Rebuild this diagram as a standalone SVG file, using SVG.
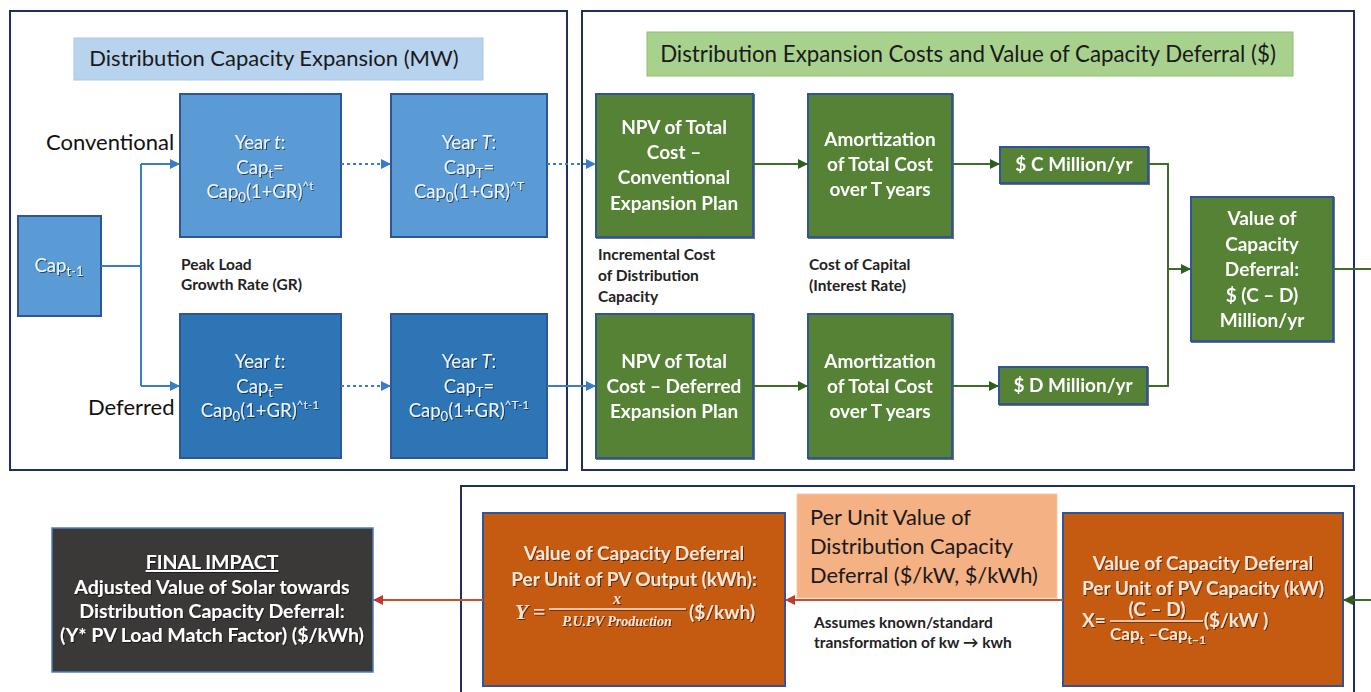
<svg xmlns="http://www.w3.org/2000/svg" width="1371" height="692" viewBox="0 0 1371 692">
<style>
  .panel{fill:#fff;stroke:#1f2f5f;stroke-width:2}
  .lb{fill:#5b9bd5;stroke:#2f5597;stroke-width:2}
  .db{fill:#2e75b6;stroke:#2f5597;stroke-width:2}
  .gb{fill:#548235;stroke:#2f5597;stroke-width:2}
  .ob{fill:#c55a11;stroke:#2f5597;stroke-width:2}
  .t{font-family:Lato,"Liberation Sans",sans-serif}
  .wt{font-family:Lato,"Liberation Sans",sans-serif;fill:#eef4fb;font-size:18.5px;text-anchor:middle}
  .gt{font-family:Lato,"Liberation Sans",sans-serif;fill:#ffffff;font-size:19px;font-weight:bold;text-anchor:middle}
  .ot{font-family:Lato,"Liberation Sans",sans-serif;fill:#fbe5d6;font-size:19px;font-weight:bold;text-anchor:middle}
  .ft{font-family:Lato,"Liberation Sans",sans-serif;fill:#ffffff;font-size:19.5px;font-weight:bold;text-anchor:middle}
  .lab{font-family:Lato,"Liberation Sans",sans-serif;fill:#222;font-size:15.5px;font-weight:bold}
  .blue{stroke:#3a7cc8;stroke-width:2;fill:none}
  .green{stroke:#3c6e2a;stroke-width:2;fill:none}
  .red{stroke:#c8502a;stroke-width:2;fill:none}
  .dot{stroke-dasharray:3 3}
</style>
<defs>
  <marker id="ab" viewBox="0 0 10 10" refX="9" refY="5" markerWidth="5" markerHeight="5" orient="auto" markerUnits="strokeWidth"><path d="M0,0 L10,5 L0,10 z" fill="#3a7cc8"/></marker>
  <marker id="ag" viewBox="0 0 10 10" refX="9" refY="5" markerWidth="5" markerHeight="5" orient="auto" markerUnits="strokeWidth"><path d="M0,0 L10,5 L0,10 z" fill="#2f5f1f"/></marker>
  <marker id="ar" viewBox="0 0 10 10" refX="9" refY="5" markerWidth="5" markerHeight="5" orient="auto" markerUnits="strokeWidth"><path d="M0,0 L10,5 L0,10 z" fill="#c0392b"/></marker>
  <filter id="sh" x="-10%" y="-10%" width="120%" height="130%"><feDropShadow dx="1" dy="1" stdDeviation="0.6" flood-color="#000" flood-opacity="0.55"/></filter>
</defs>

<g id="panels">
  <rect class="panel" x="10" y="11" width="557" height="459"/>
  <rect class="panel" x="582" y="11" width="772" height="459"/>
  <rect class="panel" x="461" y="486" width="893" height="220"/>
</g>

<g id="title-capacity">
  <rect x="74" y="38" width="409" height="42" fill="#b7d3ee" stroke="#a9c8e6" stroke-width="1"/>
  <text class="t" x="274" y="66" font-size="22" fill="#1a1a1a" text-anchor="middle">Distribution Capacity Expansion (MW)</text>
</g>
<g id="title-costs">
  <rect x="647" y="32" width="646" height="44" fill="#a9d18e" stroke="#8fc06c" stroke-width="1"/>
  <text class="t" x="968" y="62" font-size="22.3" fill="#1a1a1a" text-anchor="middle">Distribution Expansion Costs and Value of Capacity Deferral ($)</text>
</g>

<g id="labels">
  <text class="t" x="46" y="150" font-size="22" fill="#111">Conventional</text>
  <text class="t" x="88" y="415" font-size="22" fill="#111">Deferred</text>
  <text class="lab" x="181" y="270">Peak  Load</text>
  <text class="lab" x="181" y="290">Growth Rate (GR)</text>
  <text class="lab" x="598" y="260">Incremental Cost</text>
  <text class="lab" x="598" y="281">of Distribution</text>
  <text class="lab" x="598" y="302">Capacity</text>
  <text class="lab" x="809" y="270">Cost of Capital</text>
  <text class="lab" x="809" y="291">(Interest Rate)</text>
  <text class="lab" x="814" y="628">Assumes known/standard</text>
  <text class="lab" x="814" y="648">transformation of kw → kwh</text>
</g>

<g id="cap-prev">
  <rect class="lb" x="18" y="216" width="83" height="100"/>
  <text class="wt" x="59" y="272" filter="url(#sh)">Cap<tspan font-size="13" dy="4">t-1</tspan></text>
</g>

<g id="conv-year-t" >
  <rect class="lb" x="180" y="94" width="161" height="143"/>
  <g filter="url(#sh)">
  <text class="wt" x="260" y="149">Year <tspan font-style="italic">t</tspan>:</text>
  <text class="wt" x="260" y="174">Cap<tspan font-size="13" dy="4">t</tspan><tspan dy="-4">=</tspan></text>
  <text class="wt" x="260" y="198">Cap<tspan font-size="13" dy="4">0</tspan><tspan dy="-4">(1+GR)</tspan><tspan font-size="12" dy="-8">^t</tspan></text>
  </g>
</g>
<g id="conv-year-T">
  <rect class="lb" x="391" y="94" width="156" height="143"/>
  <g filter="url(#sh)">
  <text class="wt" x="469" y="149">Year <tspan font-style="italic">T</tspan>:</text>
  <text class="wt" x="469" y="174">Cap<tspan font-size="13" dy="4">T</tspan><tspan dy="-4">=</tspan></text>
  <text class="wt" x="469" y="198">Cap<tspan font-size="13" dy="4">0</tspan><tspan dy="-4">(1+GR)</tspan><tspan font-size="12" dy="-8">^T</tspan></text>
  </g>
</g>
<g id="def-year-t">
  <rect class="db" x="180" y="314" width="161" height="144"/>
  <g filter="url(#sh)">
  <text class="wt" x="260" y="368">Year <tspan font-style="italic">t</tspan>:</text>
  <text class="wt" x="260" y="393">Cap<tspan font-size="13" dy="4">t</tspan><tspan dy="-4">=</tspan></text>
  <text class="wt" x="260" y="417">Cap<tspan font-size="13" dy="4">0</tspan><tspan dy="-4">(1+GR)</tspan><tspan font-size="12" dy="-8">^t-1</tspan></text>
  </g>
</g>
<g id="def-year-T">
  <rect class="db" x="391" y="314" width="156" height="144"/>
  <g filter="url(#sh)">
  <text class="wt" x="469" y="368">Year <tspan font-style="italic">T</tspan>:</text>
  <text class="wt" x="469" y="393">Cap<tspan font-size="13" dy="4">T</tspan><tspan dy="-4">=</tspan></text>
  <text class="wt" x="469" y="417">Cap<tspan font-size="13" dy="4">0</tspan><tspan dy="-4">(1+GR)</tspan><tspan font-size="12" dy="-8">^T-1</tspan></text>
  </g>
</g>

<g id="npv-conv" filter="url(#sh)">
  <rect class="gb" x="596" y="94" width="157" height="143"/>
  <text class="gt" x="674" y="134">NPV of Total</text>
  <text class="gt" x="674" y="159">Cost –</text>
  <text class="gt" x="674" y="184">Conventional</text>
  <text class="gt" x="674" y="210">Expansion Plan</text>
</g>
<g id="amort-conv" filter="url(#sh)">
  <rect class="gb" x="808" y="94" width="144" height="143"/>
  <text class="gt" x="880" y="146">Amortization</text>
  <text class="gt" x="880" y="171">of Total Cost</text>
  <text class="gt" x="880" y="196">over T years</text>
</g>
<g id="c-million" filter="url(#sh)">
  <rect class="gb" x="1000" y="147" width="148" height="36"/>
  <text class="gt" x="1074" y="171">$ C Million/yr</text>
</g>
<g id="npv-def" filter="url(#sh)">
  <rect class="gb" x="596" y="314" width="157" height="144"/>
  <text class="gt" x="674" y="368">NPV of Total</text>
  <text class="gt" x="674" y="393">Cost – Deferred</text>
  <text class="gt" x="674" y="418">Expansion Plan</text>
</g>
<g id="amort-def" filter="url(#sh)">
  <rect class="gb" x="808" y="314" width="144" height="144"/>
  <text class="gt" x="880" y="368">Amortization</text>
  <text class="gt" x="880" y="393">of Total Cost</text>
  <text class="gt" x="880" y="418">over T years</text>
</g>
<g id="d-million" filter="url(#sh)">
  <rect class="gb" x="999" y="367" width="148" height="37"/>
  <text class="gt" x="1073" y="392">$ D Million/yr</text>
</g>
<g id="value-deferral" filter="url(#sh)">
  <rect class="gb" x="1191" y="197" width="142" height="144"/>
  <text class="gt" x="1262" y="225">Value of</text>
  <text class="gt" x="1262" y="251">Capacity</text>
  <text class="gt" x="1262" y="276">Deferral:</text>
  <text class="gt" x="1262" y="302">$ (C – D)</text>
  <text class="gt" x="1262" y="327">Million/yr</text>
</g>

<g id="per-unit-title">
  <rect x="797" y="494" width="260" height="104" fill="#f4b183" stroke="#f7c7a3" stroke-width="1"/>
  <text class="t" x="810" y="525" font-size="21.8" fill="#1a1a1a">Per Unit Value of</text>
  <text class="t" x="810" y="554" font-size="21.8" fill="#1a1a1a">Distribution Capacity</text>
  <text class="t" x="810" y="583" font-size="21.8" fill="#1a1a1a">Deferral ($/kW, $/kWh)</text>
</g>

<g id="value-per-kw">
  <rect class="ob" x="1063" y="513" width="280" height="173"/>
  <g filter="url(#sh)">
  <text class="ot" x="1203" y="570">Value of Capacity Deferral</text>
  <text class="ot" x="1203" y="595">Per Unit of PV Capacity (kW)</text>
  <text class="ot" x="1094" y="627">X=</text>
  <text class="ot" x="1157" y="616">(C – D)</text>
  <line x1="1110" y1="621" x2="1203" y2="621" stroke="#fbe5d6" stroke-width="1.5"/>
  <text class="ot" x="1158" y="640" style="font-size:17px">Cap<tspan font-size="12" dy="4">t</tspan><tspan dy="-4"> –Cap</tspan><tspan font-size="12" dy="4">t−1</tspan></text>
  <text class="ot" x="1236" y="627">($/kW )</text>
  </g>
</g>

<g id="value-per-kwh">
  <rect class="ob" x="483" y="513" width="302" height="173"/>
  <g filter="url(#sh)">
  <text class="ot" x="634" y="560">Value of Capacity Deferral</text>
  <text class="ot" x="634" y="586">Per Unit of PV Output (kWh):</text>
  <text x="530" y="619" font-family="'Liberation Serif',serif" font-style="italic" font-weight="bold" font-size="22" fill="#fbe5d6" text-anchor="middle">Y =</text>
  <text x="617" y="604" font-family="'Liberation Serif',serif" font-style="italic" font-weight="bold" font-size="16" fill="#fbe5d6" text-anchor="middle">x</text>
  <line x1="549" y1="609" x2="686" y2="609" stroke="#fbe5d6" stroke-width="1.5"/>
  <text x="617" y="626" font-family="'Liberation Serif',serif" font-style="italic" font-weight="bold" font-size="14" fill="#fbe5d6" text-anchor="middle">P.U.PV Production</text>
  <text class="ot" x="722" y="619">($/kwh)</text>
  </g>
</g>

<g id="final-impact">
  <rect x="52" y="528" width="321" height="144" fill="#3b3838" stroke="#4a7fc0" stroke-width="1.5"/>
  <g filter="url(#sh)">
  <text class="ft" x="212" y="569" text-decoration="underline">FINAL IMPACT</text>
  <text class="ft" x="212" y="594">Adjusted Value of Solar towards</text>
  <text class="ft" x="212" y="618">Distribution Capacity Deferral:</text>
  <text class="ft" x="212" y="642">(Y* PV Load Match Factor) ($/kWh)</text>
  </g>
</g>

<g id="connectors">
  <path class="blue" d="M101,266 H141"/>
  <path class="blue" d="M141,164 V386"/>
  <path class="blue" d="M141,164 H179" marker-end="url(#ab)"/>
  <path class="blue" d="M141,386 H179" marker-end="url(#ab)"/>
  <path class="blue dot" d="M341,164 H390" marker-end="url(#ab)"/>
  <path class="blue dot" d="M341,386 H390" marker-end="url(#ab)"/>
  <path class="blue dot" d="M547,164 H595" marker-end="url(#ab)"/>
  <path class="blue" d="M547,386 H595" marker-end="url(#ab)"/>
  <path class="green" d="M753,164 H807" marker-end="url(#ag)"/>
  <path class="green" d="M952,164 H999" marker-end="url(#ag)"/>
  <path class="green" d="M753,386 H807" marker-end="url(#ag)"/>
  <path class="green" d="M952,386 H998" marker-end="url(#ag)"/>
  <path class="green" d="M1148,164 H1168 V386 H1147"/>
  <path class="green" d="M1168,269 H1190" marker-end="url(#ag)"/>
  <path class="green" d="M1333,269 H1371"/>
  <path class="green" d="M1371,600 H1344" marker-end="url(#ag)"/>
  <path class="red" d="M1063,600 H786" marker-end="url(#ar)"/>
  <path class="red" d="M483,600 H374" marker-end="url(#ar)"/>
</g>
</svg>
